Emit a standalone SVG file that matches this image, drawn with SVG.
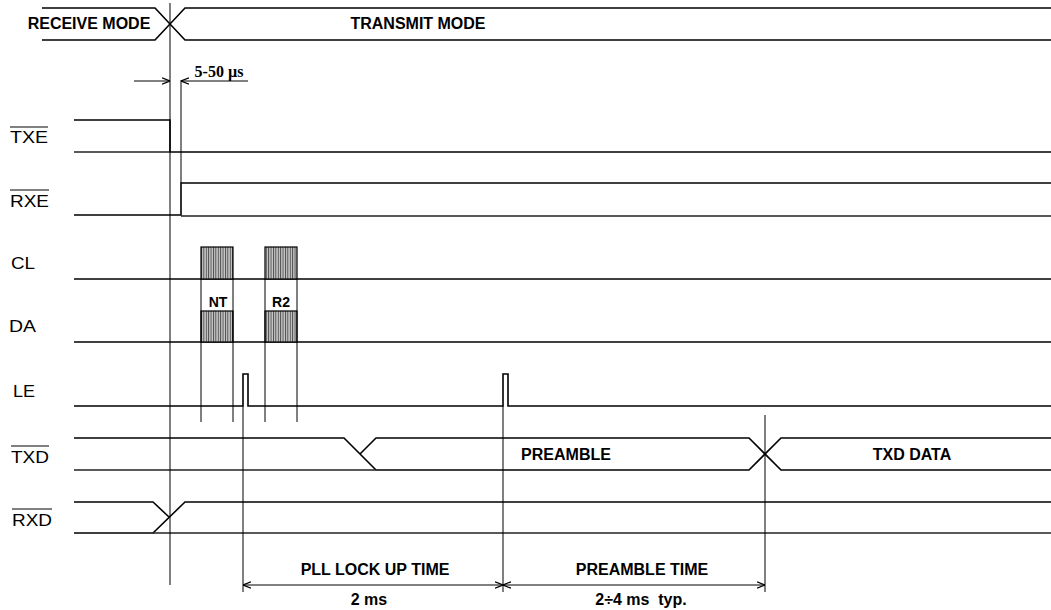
<svg xmlns="http://www.w3.org/2000/svg" width="1051" height="610" viewBox="0 0 1051 610">
<style>
.sig{fill:none;stroke:#000;stroke-width:1.6}
.ref{fill:none;stroke:#222;stroke-width:1.3}
.g{fill:none;stroke:#000;stroke-width:1}
.lbl{font-family:"Liberation Sans",Arial,sans-serif;font-size:16px;fill:#000}
.b{font-family:"Liberation Sans",Arial,sans-serif;font-size:16px;font-weight:bold;fill:#000;text-anchor:middle}
.sb{font-family:"Liberation Sans",Arial,sans-serif;font-size:14px;font-weight:bold;fill:#000;text-anchor:middle}
.burst{fill:url(#hatch);stroke:#000;stroke-width:1.2}
</style>
<defs>
<pattern id="hatch" patternUnits="userSpaceOnUse" x="201" y="0" width="2.4" height="10">
<rect width="2.4" height="10" fill="#c8c8c8"/>
<line x1="0.5" y1="0" x2="0.5" y2="10" stroke="#222" stroke-width="0.8"/>
</pattern>
<marker id="ah" viewBox="0 0 10 10" refX="10" refY="5" markerWidth="8" markerHeight="8" markerUnits="userSpaceOnUse" orient="auto-start-reverse">
<polyline points="0,1 10,5 0,9" fill="none" stroke="#000" stroke-width="1.5"/>
</marker>
</defs>
<rect width="1051" height="610" fill="#fff"/>

<g id="mode">
<polyline class="sig" points="42,8 155,8 185,40 1051,40"/>
<polyline class="sig" points="42,40 155,40 185,8 1051,8"/>
<text class="b" x="89" y="29">RECEIVE MODE</text>
<text class="b" x="418" y="29">TRANSMIT MODE</text>
</g>

<g id="TXE">
<text class="lbl" x="10" y="143" textLength="38" lengthAdjust="spacingAndGlyphs">TXE</text>
<line class="g" x1="10" y1="127" x2="48" y2="127" stroke-width="1.2"/>
<polyline class="sig" points="74,120 170,120 170,152 1051,152"/>
<line class="ref" x1="74" y1="152" x2="170" y2="152"/>
</g>

<g id="RXE">
<text class="lbl" x="10" y="207" textLength="39" lengthAdjust="spacingAndGlyphs">RXE</text>
<line class="g" x1="10" y1="190" x2="49" y2="190" stroke-width="1.2"/>
<polyline class="sig" points="74,215 181,215 181,183 1051,183"/>
<line class="ref" x1="181" y1="216" x2="1051" y2="216"/>
</g>

<g id="CL">
<text class="lbl" x="11" y="269" textLength="24" lengthAdjust="spacingAndGlyphs">CL</text>
<line class="sig" x1="74" y1="279" x2="1051" y2="279"/>
<rect class="burst" x="201" y="247" width="32" height="32"/>
<rect class="burst" x="265" y="247" width="32" height="32"/>
</g>

<g id="DA">
<text class="lbl" x="9" y="332" textLength="27" lengthAdjust="spacingAndGlyphs">DA</text>
<line class="sig" x1="74" y1="342" x2="1051" y2="342"/>
<rect class="burst" x="201" y="311" width="32" height="31"/>
<rect class="burst" x="265" y="311" width="32" height="31"/>
<text class="sb" x="218" y="307">NT</text>
<text class="sb" x="281" y="307">R2</text>
</g>

<g id="LE">
<text class="lbl" x="13" y="397" textLength="22" lengthAdjust="spacingAndGlyphs">LE</text>
<polyline class="sig" points="74,406 243,406 243,374 248,374 248,406 503,406 503,374 508,374 508,406 1051,406"/>
</g>

<g id="TXD">
<text class="lbl" x="11" y="463" textLength="38" lengthAdjust="spacingAndGlyphs">TXD</text>
<line class="g" x1="11" y1="446" x2="49" y2="446" stroke-width="1.2"/>
<polyline class="sig" points="74,438 344,438 376,470"/>
<polyline class="sig" points="360,454 376,438 749,438 781,470 1051,470"/>
<polyline class="sig" points="376,470 749,470 781,438 1051,438"/>
<line class="ref" x1="74" y1="470" x2="376" y2="470"/>
<text class="b" x="566" y="460">PREAMBLE</text>
<text class="b" x="912" y="460">TXD DATA</text>
</g>

<g id="RXD">
<text class="lbl" x="12" y="526" textLength="40" lengthAdjust="spacingAndGlyphs">RXD</text>
<line class="g" x1="12" y1="509" x2="52" y2="509" stroke-width="1.2"/>
<polyline class="sig" points="74,502 153,502 169,517"/>
<polyline class="sig" points="74,533 153,533 185,502 1051,502"/>
<line class="ref" x1="153" y1="533" x2="1051" y2="533"/>
</g>

<g id="connectors">
<line class="g" x1="170" y1="3" x2="170" y2="585"/>
<line class="g" x1="181" y1="80" x2="181" y2="183"/>
<line class="g" x1="134" y1="81" x2="170" y2="81" marker-end="url(#ah)" stroke-width="1.3"/>
<line class="g" x1="248" y1="81" x2="181" y2="81" marker-end="url(#ah)" stroke-width="1.3"/>
<text x="219" y="77" text-anchor="middle" font-family="'Liberation Serif','Times New Roman',serif" font-size="16" font-weight="bold">5-50 µs</text>
<line class="g" x1="201" y1="279" x2="201" y2="422"/>
<line class="g" x1="233" y1="279" x2="233" y2="422"/>
<line class="g" x1="265" y1="279" x2="265" y2="422"/>
<line class="g" x1="297" y1="279" x2="297" y2="422"/>
<line class="g" x1="243" y1="406" x2="243" y2="592"/>
<line class="g" x1="503" y1="406" x2="503" y2="592"/>
<line class="g" x1="765" y1="415" x2="765" y2="592"/>
<line class="g" x1="243" y1="585" x2="503" y2="585" marker-start="url(#ah)" marker-end="url(#ah)" stroke-width="1.3"/>
<line class="g" x1="503" y1="585" x2="765" y2="585" marker-start="url(#ah)" marker-end="url(#ah)" stroke-width="1.3"/>
<text class="b" x="375" y="575">PLL LOCK UP TIME</text>
<text class="b" x="369" y="605">2 ms</text>
<text class="b" x="642" y="575">PREAMBLE TIME</text>
<text class="b" x="641" y="605" xml:space="preserve">2÷4 ms  typ.</text>
</g>
</svg>
